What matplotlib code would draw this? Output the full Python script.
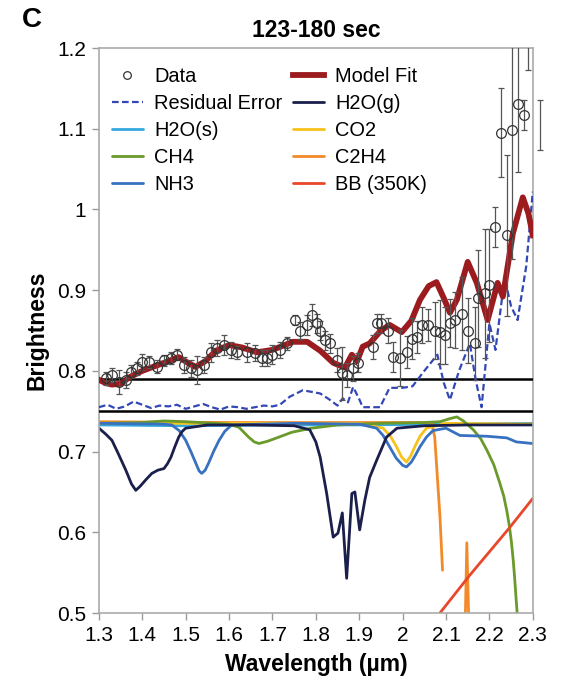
import numpy as np
import matplotlib
matplotlib.use("Agg")
import matplotlib.pyplot as plt
from matplotlib.lines import Line2D

plt.rcParams['font.family'] = ['Liberation Sans', 'DejaVu Sans']

# observed spectrum (wavelength um, brightness, error)
data_x = [1.316, 1.330, 1.346, 1.362, 1.374, 1.388, 1.400, 1.415, 1.434, 1.450,
          1.466, 1.480, 1.496, 1.512, 1.526, 1.542, 1.558, 1.572, 1.588, 1.604,
          1.618, 1.641, 1.659, 1.675, 1.687, 1.700, 1.717, 1.733, 1.752, 1.763,
          1.779, 1.790, 1.802, 1.810, 1.820, 1.832, 1.848, 1.860, 1.871, 1.886,
          1.897, 1.932, 1.940, 1.951, 1.966, 1.978, 1.994, 2.009, 2.021, 2.032,
          2.044, 2.058, 2.074, 2.086, 2.097, 2.109, 2.120, 2.136, 2.150, 2.166,
          2.173, 2.189, 2.200, 2.212, 2.226, 2.240, 2.253, 2.265, 2.280, 2.290]
data_y = [0.791, 0.795, 0.786, 0.789, 0.799, 0.803, 0.811, 0.811, 0.805, 0.813,
          0.816, 0.820, 0.807, 0.803, 0.801, 0.807, 0.823, 0.828, 0.832, 0.826,
          0.823, 0.823, 0.822, 0.816, 0.816, 0.820, 0.826, 0.834, 0.863, 0.850,
          0.857, 0.869, 0.859, 0.850, 0.838, 0.834, 0.813, 0.797, 0.795, 0.803,
          0.810, 0.830, 0.859, 0.859, 0.850, 0.817, 0.816, 0.823, 0.840, 0.842,
          0.857, 0.857, 0.850, 0.848, 0.844, 0.859, 0.863, 0.871, 0.850, 0.834,
          0.890, 0.896, 0.906, 0.978, 1.095, 0.968, 1.098, 1.131, 1.117, 1.250]
data_err = [0.008, 0.009, 0.015, 0.010, 0.008, 0.008, 0.010, 0.008, 0.008, 0.007,
            0.008, 0.007, 0.010, 0.010, 0.017, 0.010, 0.012, 0.010, 0.012, 0.010,
            0.008, 0.012, 0.010, 0.010, 0.010, 0.012, 0.010, 0.008, 0.006, 0.010,
            0.012, 0.014, 0.012, 0.012, 0.012, 0.012, 0.015, 0.033, 0.015, 0.015,
            0.012, 0.015, 0.012, 0.012, 0.015, 0.019, 0.035, 0.020, 0.025, 0.020,
            0.022, 0.020, 0.035, 0.040, 0.035, 0.030, 0.035, 0.045, 0.040, 0.045,
            0.060, 0.080, 0.070, 0.025, 0.055, 0.100, 0.160, 0.085, 0.018, 0.077]
# stray error bar just past the right edge
extra_x = [2.316]
extra_y = [1.105]
extra_err = [0.031]

fit_x = [1.300, 1.315, 1.330, 1.350, 1.370, 1.400, 1.430, 1.460, 1.484, 1.505,
         1.523, 1.545, 1.570, 1.600, 1.630, 1.664, 1.700, 1.747, 1.780, 1.810,
         1.840, 1.867, 1.883, 1.895, 1.908, 1.924, 1.950, 1.970, 1.998, 2.020,
         2.040, 2.060, 2.078, 2.095, 2.109, 2.125, 2.150, 2.171, 2.196, 2.219,
         2.231, 2.254, 2.277, 2.290, 2.300]
fit_y = [0.789, 0.785, 0.783, 0.784, 0.792, 0.800, 0.806, 0.812, 0.817, 0.810,
         0.805, 0.812, 0.825, 0.832, 0.829, 0.823, 0.826, 0.836, 0.836, 0.825,
         0.810, 0.804, 0.820, 0.812, 0.830, 0.834, 0.850, 0.857, 0.848, 0.862,
         0.888, 0.905, 0.910, 0.890, 0.872, 0.888, 0.935, 0.909, 0.863, 0.909,
         0.892, 0.970, 1.015, 0.995, 0.968]

resid_x = [1.300, 1.320, 1.340, 1.360, 1.380, 1.400, 1.420, 1.440, 1.460, 1.480,
           1.500, 1.520, 1.540, 1.560, 1.580, 1.600, 1.620, 1.640, 1.660, 1.680,
           1.700, 1.717, 1.740, 1.770, 1.790, 1.810, 1.830, 1.850, 1.862, 1.874,
           1.886, 1.900, 1.908, 1.930, 1.948, 1.970, 2.000, 2.023, 2.050, 2.080,
           2.095, 2.109, 2.130, 2.155, 2.168, 2.182, 2.200, 2.214, 2.235, 2.250,
           2.265, 2.285, 2.300]
resid_y = [0.755, 0.758, 0.753, 0.756, 0.762, 0.758, 0.754, 0.757, 0.756, 0.758,
           0.753, 0.756, 0.759, 0.755, 0.752, 0.756, 0.755, 0.753, 0.755, 0.757,
           0.756, 0.758, 0.768, 0.776, 0.774, 0.772, 0.765, 0.757, 0.766, 0.761,
           0.780, 0.765, 0.755, 0.755, 0.755, 0.779, 0.779, 0.781, 0.800, 0.820,
           0.785, 0.764, 0.800, 0.834, 0.790, 0.755, 0.859, 0.826, 0.915, 0.880,
           0.863, 0.930, 1.022]

h2og_x = [1.300, 1.315, 1.330, 1.345, 1.362, 1.375, 1.385, 1.395, 1.408, 1.422,
          1.436, 1.450, 1.458, 1.466, 1.475, 1.484, 1.492, 1.500, 1.550, 1.650,
          1.750, 1.786, 1.800, 1.810, 1.825, 1.840, 1.851, 1.861, 1.871, 1.883,
          1.890, 1.901, 1.913, 1.924, 1.940, 1.963, 1.987, 2.050, 2.150, 2.300]
h2og_y = [0.729, 0.722, 0.714, 0.697, 0.677, 0.660, 0.652, 0.657, 0.665, 0.673,
          0.677, 0.679, 0.685, 0.693, 0.706, 0.718, 0.725, 0.729, 0.733, 0.733,
          0.732, 0.727, 0.712, 0.693, 0.648, 0.594, 0.599, 0.624, 0.543, 0.648,
          0.650, 0.603, 0.640, 0.668, 0.689, 0.718, 0.729, 0.732, 0.733, 0.733]

h2os_x = [1.300, 1.500, 1.700, 1.900, 2.100, 2.300]
h2os_y = [0.733, 0.732, 0.733, 0.733, 0.734, 0.735]

co2_x = [1.300, 1.600, 1.900, 1.955, 1.972, 1.986, 1.998, 2.009, 2.018, 2.028,
         2.040, 2.055, 2.100, 2.300]
co2_y = [0.735, 0.735, 0.735, 0.729, 0.719, 0.706, 0.693, 0.687, 0.694, 0.706,
         0.719, 0.729, 0.735, 0.734]

ch4_x = [1.300, 1.400, 1.450, 1.500, 1.600, 1.623, 1.645, 1.658, 1.669, 1.690,
         1.715, 1.745, 1.790, 1.850, 1.950, 2.050, 2.086, 2.110, 2.125, 2.140,
         2.163, 2.180, 2.194, 2.210, 2.224, 2.233, 2.240, 2.246, 2.251, 2.255,
         2.258, 2.261, 2.264, 2.270]
ch4_y = [0.735, 0.736, 0.738, 0.737, 0.734, 0.730, 0.718, 0.712, 0.710, 0.713,
         0.718, 0.724, 0.729, 0.733, 0.735, 0.736, 0.737, 0.741, 0.743, 0.738,
         0.727, 0.716, 0.702, 0.684, 0.661, 0.645, 0.627, 0.608, 0.587, 0.565,
         0.545, 0.522, 0.500, 0.450]

c2h4_x = [1.300, 1.600, 1.900, 2.060, 2.067, 2.074, 2.086, 2.092, np.nan, 2.144, 2.148, 2.153]
c2h4_y = [0.737, 0.736, 0.736, 0.736, 0.735, 0.718, 0.620, 0.553, np.nan, 0.480, 0.587, 0.480]

nh3_x = [1.300, 1.450, 1.468, 1.485, 1.500, 1.512, 1.523, 1.531, 1.537, 1.545,
         1.553, 1.565, 1.577, 1.590, 1.606, 1.750, 1.900, 1.940, 1.955, 1.970,
         1.985, 2.000, 2.009, 2.020, 2.030, 2.040, 2.055, 2.070, 2.100, 2.132,
         2.194, 2.240, 2.262, 2.300]
nh3_y = [0.735, 0.734, 0.733, 0.726, 0.714, 0.700, 0.686, 0.676, 0.673, 0.677,
         0.686, 0.701, 0.714, 0.725, 0.733, 0.735, 0.734, 0.729, 0.720, 0.706,
         0.692, 0.683, 0.681, 0.687, 0.696, 0.706, 0.718, 0.726, 0.729, 0.720,
         0.719, 0.717, 0.712, 0.710]

bb_x = [2.086, 2.155, 2.247, 2.300]
bb_y = [0.500, 0.547, 0.606, 0.642]

x_ticks = [1.3, 1.4, 1.5, 1.6, 1.7, 1.8, 1.9, 2.0, 2.1, 2.2, 2.3]
x_labels = ['1.3', '1.4', '1.5', '1.6', '1.7', '1.8', '1.9', '2', '2.1', '2.2', '2.3']
y_ticks = [0.5, 0.6, 0.7, 0.8, 0.9, 1.0, 1.1, 1.2]
y_labels = ['0.5', '0.6', '0.7', '0.8', '0.9', '1', '1.1', '1.2']
ref_levels = [0.79, 0.75]

fig = plt.figure(figsize=(5.62, 6.94), dpi=100)
ax = fig.add_axes([0.176, 0.1167, 0.772, 0.8141])

kw = dict(lw=2, solid_joinstyle='round', solid_capstyle='round')
# component spectra
ax.plot(h2os_x, h2os_y, color='#35a8e0', label='H2O(s)', **kw)
ax.plot(c2h4_x, c2h4_y, color='#f28a2a', label='C2H4', **kw)
ax.plot(co2_x, co2_y, color='#f7c21b', label='CO2', **kw)
ax.plot(ch4_x, ch4_y, color='#6a9a2a', label='CH4', **kw)
ax.plot(nh3_x, nh3_y, color='#3871c0', label='NH3', **kw)
ax.plot(h2og_x, h2og_y, color='#1b1f4b', label='H2O(g)', **kw)
ax.plot(bb_x, bb_y, color='#e8472b', label='BB (350K)', **kw)

for lv in ref_levels:
    ax.axhline(lv, color='black', lw=1.8, zorder=3)

ax.plot(resid_x, resid_y, color='#3347b5', lw=1.6, ls=(0, (3, 1.5)), label='Residual Error', zorder=4)
ax.plot(fit_x, fit_y, color='#9b1b1e', lw=4.2, solid_joinstyle='round', label='Model Fit', zorder=5)
ax.errorbar(data_x, data_y, yerr=data_err, fmt='o', mfc='none', mec='#333333', mew=0.9,
            ms=7, ecolor='#555555', elinewidth=0.9, capsize=2.5, capthick=0.9, zorder=6)
ax.errorbar(extra_x, extra_y, yerr=extra_err, fmt='none', ecolor='#555555',
            elinewidth=0.9, capsize=2.5, capthick=0.9, clip_on=False)

ax.set_xlim(1.3, 2.3)
ax.set_ylim(0.5, 1.2)
ax.set_xticks(x_ticks)
ax.set_xticklabels(x_labels)
ax.set_yticks(y_ticks)
ax.set_yticklabels(y_labels)
ax.tick_params(direction='out', length=5, width=1, color='#999999', labelsize=15, pad=4)
for s in ax.spines.values():
    s.set_color('#aaaaaa')
    s.set_linewidth(1.2)

ax.set_xlabel('Wavelength (µm)', fontsize=16.5, fontweight='bold', labelpad=6)
ax.set_ylabel('Brightness', fontsize=16.5, fontweight='bold', labelpad=6)
ax.set_title('123-180 sec', fontsize=16.5, fontweight='bold', pad=8)
fig.text(0.039, 0.99, 'C', fontsize=20, fontweight='bold', va='top', ha='left')

h, l = ax.get_legend_handles_labels()
hd = dict(zip(l, h))
hd['Data'] = Line2D([], [], ls='none', marker='o', mfc='none', mec='#333333', mew=0.9, ms=5.5)
order = ['Data', 'Residual Error', 'H2O(s)', 'CH4', 'NH3',
         'Model Fit', 'H2O(g)', 'CO2', 'C2H4', 'BB (350K)']
ax.legend([hd[k] for k in order], order, ncol=2, loc='upper left',
          bbox_to_anchor=(0.03, 0.966), frameon=False, fontsize=14.4,
          handlelength=1.55, handletextpad=0.55, columnspacing=0.55,
          labelspacing=0.4, borderpad=0, borderaxespad=0)

fig.savefig('out.png', dpi=100)
